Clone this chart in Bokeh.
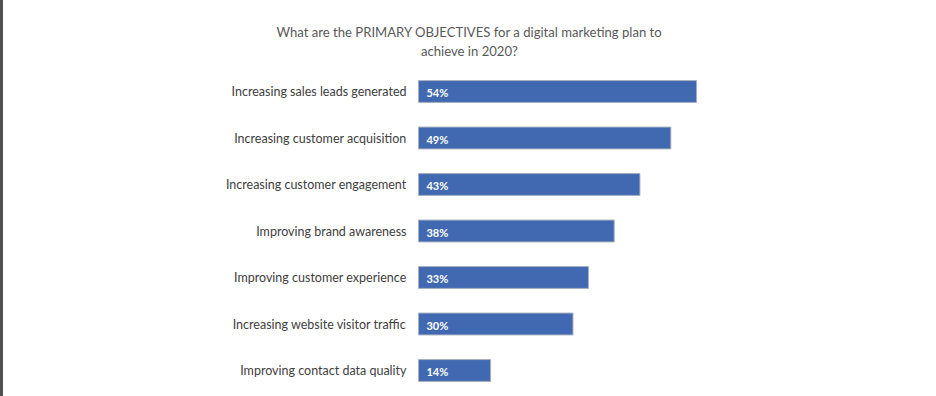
from bokeh.plotting import figure
from bokeh.models import Range1d
from bokeh.core.properties import value
from bokeh.embed import file_html
from bokeh.resources import INLINE

title_lines = ["What are the PRIMARY OBJECTIVES for a digital marketing plan to",
               "achieve in 2020?"]
categories = ["Increasing sales leads generated",
              "Increasing customer acquisition",
              "Increasing customer engagement",
              "Improving brand awareness",
              "Improving customer experience",
              "Increasing website visitor traffic",
              "Improving contact data quality"]
values = [54, 49, 43, 38, 33, 30, 14]
value_labels = [f"{v}%" for v in values]

FONT = "Lato"
BAR = "#4169B1"

ypos = list(range(len(categories)))

p = figure(width=925, height=396, output_backend="svg", toolbar_location=None,
           x_range=Range1d(-80.58, 99.03), y_range=Range1d(6.559, -1.957),
           min_border_left=0, min_border_right=0, min_border_top=0,
           min_border_bottom=0, outline_line_color=None)
p.background_fill_color = "white"
p.border_fill_color = "white"
p.styles = {"border-left": "3px solid #505050"}
p.axis.visible = False
p.grid.visible = False

p.hbar(y=ypos, right=values, left=0, height=0.47, fill_color=BAR,
       line_color="#A8AFBD", line_width=1)

# category labels, right-aligned just left of the bars
p.text(x=[0] * len(categories), y=ypos, text=categories, x_offset=-12,
       text_font=value(FONT), text_font_size="12.5px", text_color="#404040",
       text_baseline="middle", text_align="right")

# value labels inside the bars
p.text(x=[0] * len(values), y=ypos, text=value_labels, x_offset=8, y_offset=1,
       text_font=value(FONT), text_font_size="11px", text_font_style="bold",
       text_color="white", text_baseline="middle", text_align="left")

# two-line title
p.text(x=[9.9] * len(title_lines), y=[-1.29, -0.88], text=title_lines,
       text_font=value(FONT), text_font_size="13.1px", text_color="#595959",
       text_baseline="middle", text_align="center")

open("out.html", "w").write(file_html(p, INLINE))
